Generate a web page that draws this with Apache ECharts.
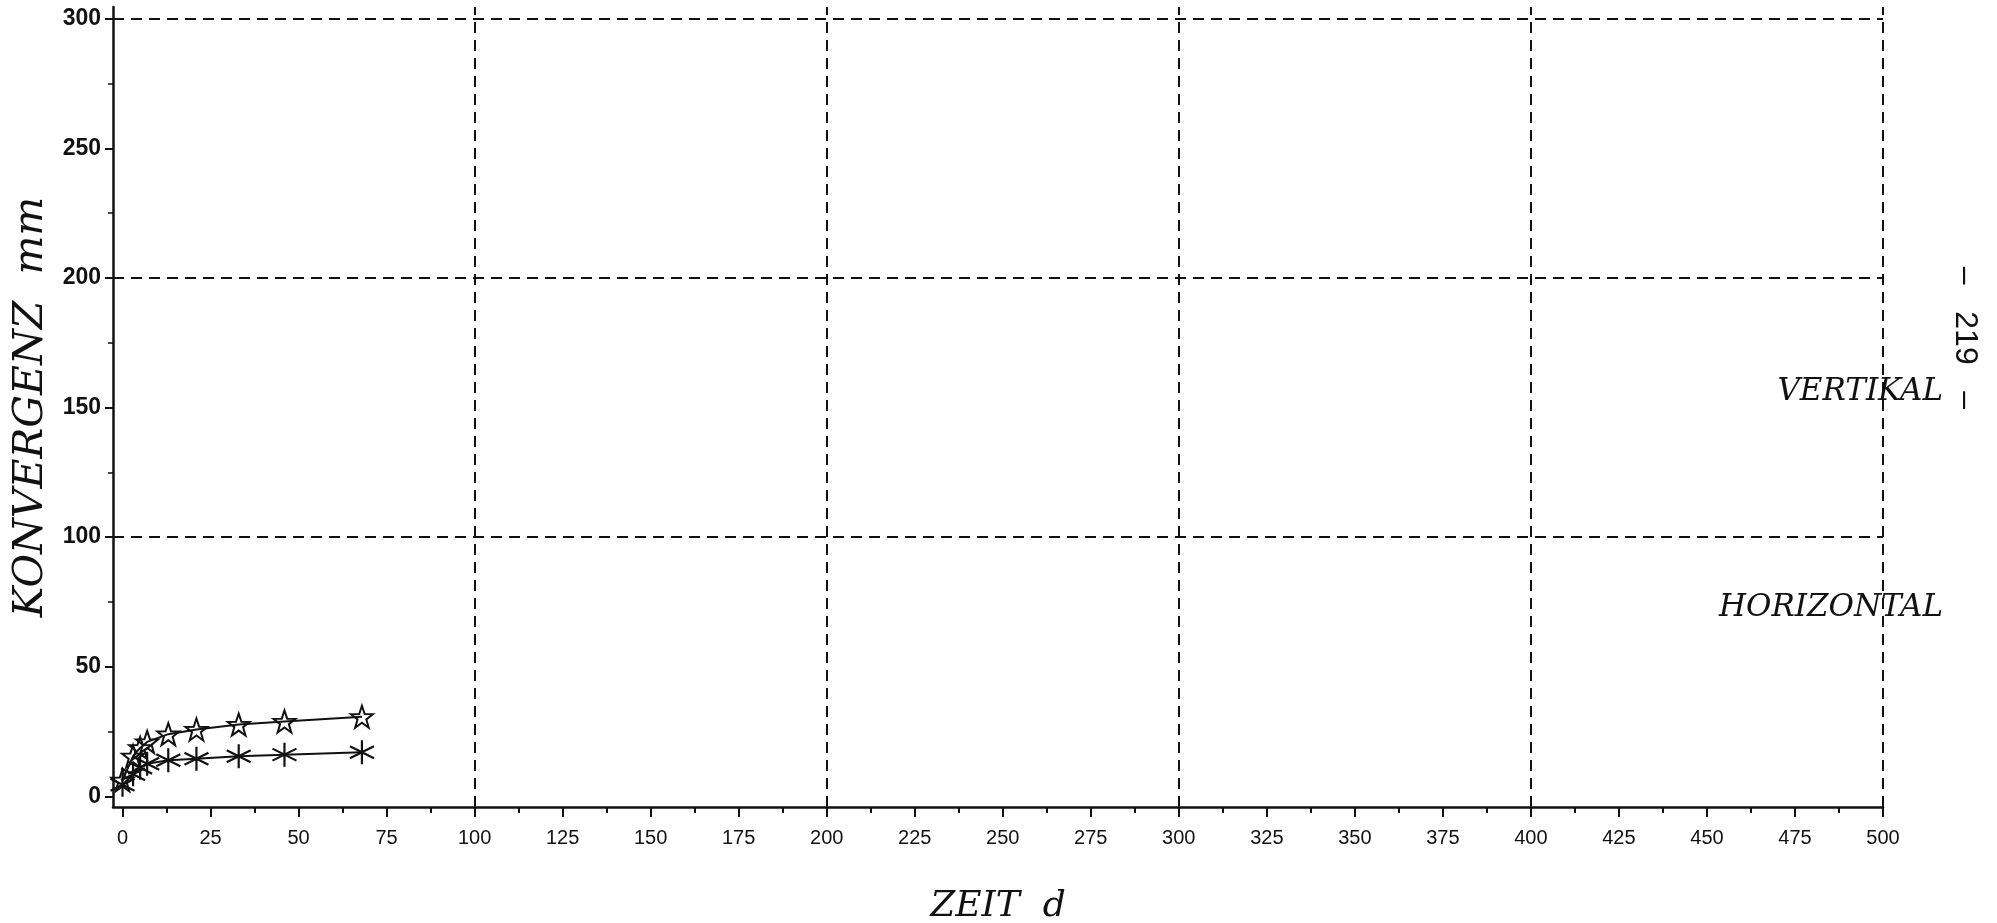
<!DOCTYPE html>
<html><head><meta charset="utf-8">
<script src="https://cdn.jsdelivr.net/npm/echarts@6/dist/echarts.min.js"></script>
<style>html,body{margin:0;padding:0;background:#fff}#c{width:1997px;height:923px}</style>
</head><body><div id="c"></div>
<script>
// ---- data ----
const days = [0, 3, 5, 7, 13, 21, 33, 46, 68];
const vertikal = [6.2, 15.5, 18.7, 21.0, 24.0, 25.8, 27.7, 28.9, 30.7];
const horizontal = [4.5, 8.5, 11.0, 12.6, 13.9, 14.5, 15.5, 16.1, 17.0];
const seriesNames = ['VERTIKAL', 'HORIZONTAL'];
const xTickValues = [0, 25, 50, 75, 100, 125, 150, 175, 200, 225, 250, 275, 300, 325, 350, 375, 400, 425, 450, 475, 500];
const xTickLabels = ['0', '25', '50', '75', '100', '125', '150', '175', '200', '225', '250', '275', '300', '325', '350', '375', '400', '425', '450', '475', '500'];
const xMinorTicks = [12.5, 37.5, 62.5, 87.5, 112.5, 137.5, 162.5, 187.5, 212.5, 237.5, 262.5, 287.5, 312.5, 337.5, 362.5, 387.5, 412.5, 437.5, 462.5, 487.5];
const yTickValues = [0, 50, 100, 150, 200, 250, 300];
const yTickLabels = ['0', '50', '100', '150', '200', '250', '300'];
const yMinorTicks = [25, 75, 125, 175, 225, 275];
const xGridLines = [100, 200, 300, 400, 500];
const yGridLines = [100, 200, 300];
const xTitle = 'ZEIT  d';
const yTitle = 'KONVERGENZ  mm';
const pageNumber = '–   219   –';

// ---- chart ----
const INK = '#111';
const X_MIN = -2.7, X_MAX = 500, Y_MIN = -4.1, Y_MAX = 304.5;
const starPath = 'path://M0,-10 L2.35,-3.24 L9.51,-3.09 L3.8,1.24 L5.88,8.09 L0,4 L-5.88,8.09 L-3.8,1.24 L-9.51,-3.09 L-2.35,-3.24 Z';
const asteriskPath = 'path://M0,-10 L0,10 M-8.66,-5 L8.66,5 M-8.66,5 L8.66,-5';

const chart = echarts.init(document.getElementById('c'), null, {renderer: 'canvas'});
const xLabelMap = {};
xTickValues.forEach((v, i) => { xLabelMap[v] = xTickLabels[i]; });
const yLabelMap = {};
yTickValues.forEach((v, i) => { yLabelMap[v] = yTickLabels[i]; });

const option = {
  backgroundColor: '#fff',
  animation: false,
  grid: {left: 113, right: 114, top: 7, bottom: 116, containLabel: false, outerBoundsMode: 'none'},
  xAxis: [{
    type: 'value', min: X_MIN, max: X_MAX, position: 'bottom',
    axisLine: {show: true, onZero: false, lineStyle: {color: INK, width: 2.5}},
    axisTick: {show: true, inside: false, length: 10, customValues: xTickValues, lineStyle: {color: INK, width: 2}},
    axisLabel: {show: true, customValues: xTickValues, formatter: v => xLabelMap[v] ?? '', margin: 21,
      fontFamily: 'Liberation Sans', fontSize: 20, color: INK},
    splitLine: {show: false},
    name: xTitle, nameLocation: 'middle', nameGap: 82,
    nameTextStyle: {fontFamily: 'DejaVu Serif', fontStyle: 'italic', fontSize: 36, color: INK}
  }, {
    type: 'value', min: X_MIN, max: X_MAX, position: 'bottom',
    axisLine: {show: false, onZero: false},
    axisTick: {show: true, inside: false, length: 6, customValues: xMinorTicks, lineStyle: {color: INK, width: 2}},
    axisLabel: {show: false},
    splitLine: {show: false}
  }],
  yAxis: [{
    type: 'value', min: Y_MIN, max: Y_MAX, position: 'left',
    axisLine: {show: true, onZero: false, lineStyle: {color: INK, width: 2.5}},
    axisTick: {show: true, inside: false, length: 8, customValues: yTickValues, lineStyle: {color: INK, width: 2}},
    axisLabel: {show: true, customValues: yTickValues, formatter: v => yLabelMap[v] ?? '', margin: 12,
      fontFamily: 'Liberation Sans', fontWeight: 'bold', fontSize: 23, color: INK},
    splitLine: {show: false},
    name: yTitle, nameLocation: 'middle', nameRotate: 90, nameGap: 53,
    nameTextStyle: {fontFamily: 'DejaVu Serif', fontStyle: 'italic', fontSize: 41, color: INK}
  }, {
    type: 'value', min: Y_MIN, max: Y_MAX, position: 'left',
    axisLine: {show: false, onZero: false},
    axisTick: {show: true, inside: false, length: 5, customValues: yMinorTicks, lineStyle: {color: INK, width: 1.5}},
    axisLabel: {show: false},
    splitLine: {show: false}
  }],
  series: [{
    name: 'grid', type: 'line', xAxisIndex: 1, yAxisIndex: 1, data: [], silent: true,
    markLine: {
      silent: true, symbol: ['none', 'none'], animation: false,
      label: {show: false},
      lineStyle: {color: INK, width: 2, type: [11, 7]},
      emphasis: {disabled: true},
      data: xGridLines.map(v => ({xAxis: v})).concat(yGridLines.map(v => ({yAxis: v})))
    }
  }, {
    name: seriesNames[0], type: 'line', clip: false,
    data: days.map((d, i) => [d, vertikal[i]]),
    symbol: starPath, symbolSize: 22, showSymbol: true,
    lineStyle: {color: INK, width: 2},
    itemStyle: {color: 'rgba(255,255,255,0)', borderColor: INK, borderWidth: 2}
  }, {
    name: seriesNames[1], type: 'line', clip: false,
    data: days.map((d, i) => [d, horizontal[i]]),
    symbol: asteriskPath, symbolSize: 24, showSymbol: true,
    lineStyle: {color: INK, width: 2},
    itemStyle: {color: 'rgba(255,255,255,0)', borderColor: INK, borderWidth: 2.2}
  }],
  graphic: [{
    type: 'text', x: 1943, y: 392, z: 100,
    style: {text: seriesNames[0], font: 'italic 31px "DejaVu Serif"', fill: INK, textAlign: 'right', textVerticalAlign: 'middle'}
  }, {
    type: 'text', x: 1943, y: 608, z: 100,
    style: {text: seriesNames[1], font: 'italic 31px "DejaVu Serif"', fill: INK, textAlign: 'right', textVerticalAlign: 'middle'}
  }, {
    type: 'text', x: 1965, y: 338, rotation: -Math.PI / 2, z: 100,
    style: {text: pageNumber, font: '32px "Liberation Sans"', fill: INK, textAlign: 'center', textVerticalAlign: 'middle'}
  }]
};
chart.setOption(option);
</script>
</body></html>
